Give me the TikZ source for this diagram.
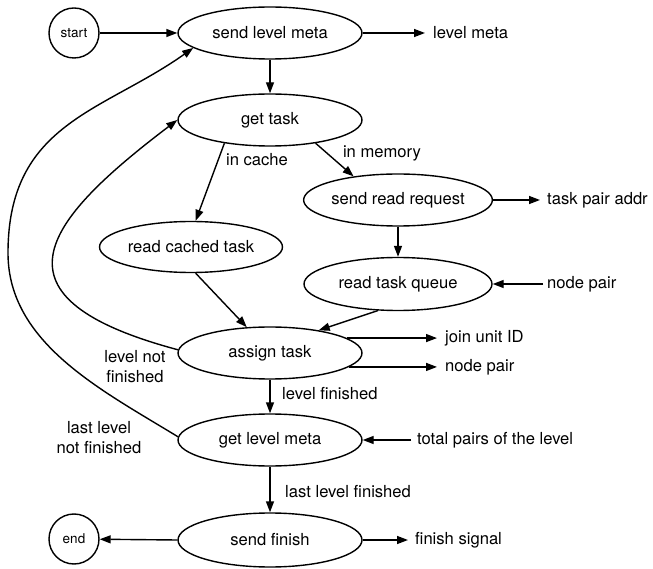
\documentclass[tikz,border=0pt]{standalone}
\usepackage{fontspec}
\setmainfont{TeX Gyre Heros}
\usetikzlibrary{shapes.geometric,arrows.meta}
\begin{document}
\begin{tikzpicture}[x=1pt,y=1pt,
  every node/.style={font=\fontsize{16.6}{20}\selectfont},
  state/.style={draw,ellipse,line width=1.4pt,minimum width=184pt,minimum height=52pt,inner sep=0pt},
  term/.style={draw,circle,line width=1.4pt,minimum size=50pt,inner sep=0pt,font=\fontsize{13.5}{16}\selectfont},
  arr/.style={line width=1.4pt,-{Triangle[length=11pt,width=8pt]}},
  lab/.style={anchor=west,inner sep=0pt},
  clab/.style={align=center,inner sep=0pt}]
\useasboundingbox (0,0) rectangle (653,568);
% nodes
\node[term] (start) at (74,535) {start};
\node[state] (slm) at (270,535) {send level meta};
\node[state] (gettask) at (270,448) {get task};
\node[state,minimum width=188pt] (sendread) at (398,368) {send read request};
\node[state,minimum width=183pt,minimum height=51pt] (readcached) at (191,321) {read cached task};
\node[state,minimum width=188pt,minimum height=53pt] (readqueue) at (398,284) {read task queue};
\node[state] (assign) at (270,215) {assign task};
\node[state] (getlevel) at (270,128) {get level meta};
\node[state,minimum height=54pt] (sendfinish) at (270,28) {send finish};
\node[term] (end) at (74,29) {end};
% outside labels
\node[lab] (tlm) at (433,535) {level meta};
\node[lab] (ttpa) at (547,368) {task pair addr};
\node[lab] (tnp1) at (547,284) {node pair};
\node[lab] (tju) at (445,230) {join unit ID};
\node[lab] (tnp2) at (445,201) {node pair};
\node[lab] (ttp) at (417,128) {total pairs of the level};
\node[lab] (tfs) at (415,28) {finish signal};
% edge labels
\node[clab] (lcache) at (257,408) {in cache};
\node[clab] (lmem) at (382,415) {in memory};
\node[clab] (lnot) at (135,201) {level not\\finished};
\node[clab] (llast) at (99,130) {last level\\not finished};
\node[lab] (lfin) at (282,174) {level finished};
\node[lab] (llfin) at (285,76) {last level finished};
% coordinates
\coordinate (clm) at (425,535);
\coordinate (ctpa) at (540,368);
\coordinate (cnp1) at (543,284);
\coordinate (cju) at (437,0);
\coordinate (ctp) at (411,128);
\coordinate (cfs) at (408,28);
\coordinate (cmid) at (8,315);
% edges
\draw[arr] (start) -- (slm);
\draw[arr] (slm.east) -- (clm);
\draw[arr] (slm) -- (gettask);
\draw[arr] (gettask.-153) -- (readcached.80);
\draw[arr] (gettask.-27) -- (sendread.152);
\draw[arr] (sendread.east) -- (ctpa);
\draw[arr] (sendread) -- (readqueue);
\draw[arr] (cnp1) -- (readqueue.east);
\draw[arr] (readcached.-80) -- (assign.132);
\draw[arr] (readqueue.-127) -- (assign.25);
\draw[arr] (assign.11) -- (assign.11 -| cju);
\draw[arr] (assign.-10) -- (assign.-10 -| cju);
\draw[arr] (assign) -- (getlevel);
\draw[arr] (ctp) -- (getlevel.east);
\draw[arr] (getlevel) -- (sendfinish);
\draw[arr] (sendfinish.east) -- (cfs);
\draw[arr] (sendfinish.west) -- (end);
\draw[arr] (assign.178) .. controls (-16,270) and (41.5,345) .. (gettask.west);
\draw[arr] (getlevel.178) .. controls (101.5,178) and (8,225) .. (cmid)
  .. controls (8,445) and (103,456) .. (slm.191);
\end{tikzpicture}
\end{document}
